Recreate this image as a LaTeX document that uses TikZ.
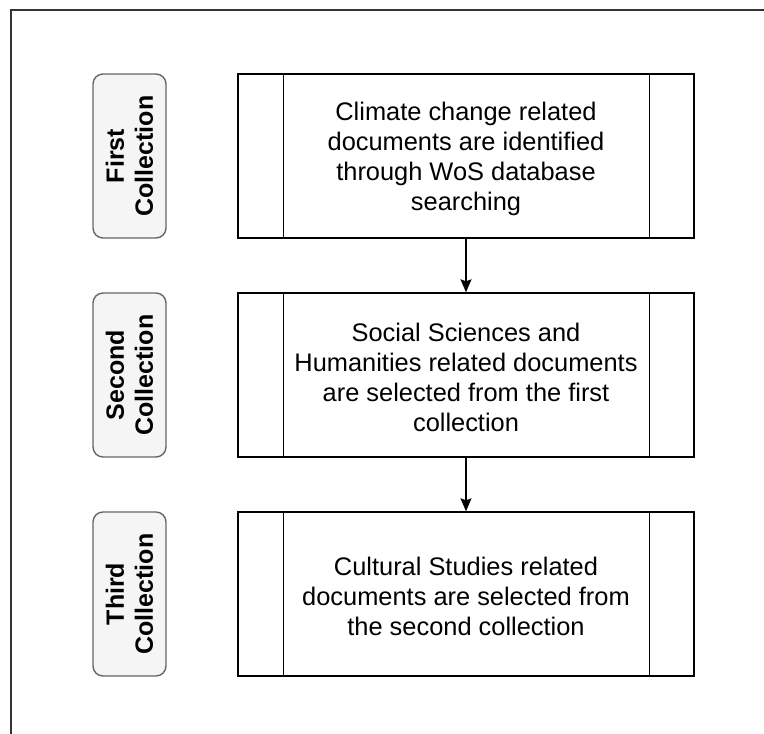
\documentclass[tikz,border=0pt]{standalone}
\usepackage{fontspec}
\setmainfont{Liberation Sans}
\usetikzlibrary{arrows.meta}
\definecolor{labgray}{HTML}{666666}
\definecolor{labfill}{HTML}{F5F5F5}
\definecolor{framegray}{HTML}{333333}
\newcommand{\toppad}{\rule{0pt}{24pt}}
\begin{document}
\begin{tikzpicture}[x=1pt,y=-1pt,
  proc/.style={draw=black, line width=1.4pt, minimum width=456pt, minimum height=164pt,
    align=center, inner sep=0pt, font=\fontsize{25.4}{30}\selectfont},
  lab/.style={draw=labgray, fill=labfill, line width=1.4pt, rounded corners=10pt,
    minimum width=164pt, minimum height=73pt, inner sep=0pt, rotate=90, align=center,
    font=\bfseries\fontsize{25}{29}\selectfont},
  inner/.style={draw=black, line width=1.4pt},
  arr/.style={draw=black, line width=1.4pt, -{Stealth[length=13pt,width=11pt,inset=2pt]}},
  frame/.style={draw=framegray, line width=1.4pt}]
\useasboundingbox (0,0) rectangle (764,734);
\draw[frame] (11,734) -- (11,10) -- (764,10);

\node[lab] (l1) at (129.5,156) {First\\Collection};
\node[lab] (l2) at (129.5,375) {Second\\Collection};
\node[lab] (l3) at (129.5,594) {Third\\Collection};

\node[proc] (p1) at (466,156) {\toppad Climate change related\\documents are identified\\through WoS database\\searching};
\node[proc] (p2) at (466,375) {\toppad Social Sciences and\\Humanities related documents\\are selected from the first\\collection};
\node[proc] (p3) at (466,594) {\toppad Cultural Studies related\\documents are selected from\\the second collection};

\foreach \p in {p1,p2,p3}{
  \draw[inner] ([xshift=46pt]\p.north west) -- ([xshift=46pt]\p.south west);
  \draw[inner] ([xshift=-45pt]\p.north east) -- ([xshift=-45pt]\p.south east);
}
\draw[arr] (p1) -- (p2);
\draw[arr] (p2) -- (p3);
\end{tikzpicture}
\end{document}
